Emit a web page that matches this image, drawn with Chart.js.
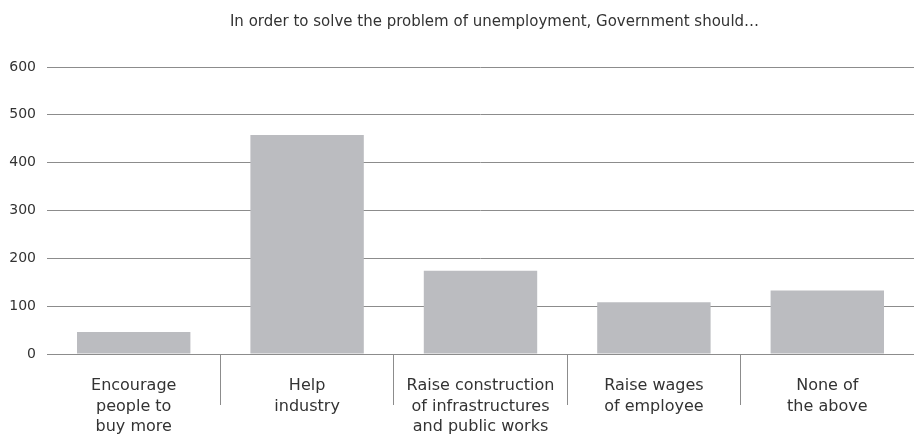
<!DOCTYPE html>
<html>
<head>
<meta charset="utf-8">
<script src="https://cdn.jsdelivr.net/npm/chart.js@4/dist/chart.umd.min.js"></script>
<style>
  html, body { margin: 0; padding: 0; background: #fff; }
  #wrap { width: 914px; height: 438px; position: relative; }
</style>
</head>
<body>
<div id="wrap"><canvas id="c"></canvas></div>
<script>
const titleText = 'In order to solve the problem of unemployment, Government should…';
const categories = [
  ['Encourage', 'people to', 'buy more'],
  ['Help', 'industry'],
  ['Raise construction', 'of infrastructures', 'and public works'],
  ['Raise wages', 'of employee'],
  ['None of', 'the above']
];
const responses = [46, 458, 174, 108, 133];
const yTicks = [0, 100, 200, 300, 400, 500, 600];

const fontFamily = '"DejaVu Sans", "Noto Sans", sans-serif';
const textColor = '#333333';
const ruleColor = '#8c8c8c';

// Heading drawn above the plot, slightly right of the plot centre
const headingPlugin = {
  id: 'heading',
  afterDraw(chart) {
    const { ctx, chartArea } = chart;
    ctx.save();
    ctx.font = '15px ' + fontFamily;
    ctx.fillStyle = textColor;
    ctx.textAlign = 'center';
    ctx.textBaseline = 'middle';
    ctx.fillText(titleText, (chartArea.left + chartArea.right) / 2 + 14, 22);
    ctx.restore();
  }
};

new Chart(document.getElementById('c'), {
  type: 'bar',
  data: {
    labels: categories,
    datasets: [{
      data: responses,
      backgroundColor: '#bbbcc0',
      borderWidth: 0,
      barPercentage: 0.654,
      categoryPercentage: 1.0
    }]
  },
  plugins: [headingPlugin],
  options: {
    responsive: true,
    maintainAspectRatio: false,
    animation: false,
    layout: { padding: { top: 67, left: 0, right: 0, bottom: 0 } },
    plugins: {
      legend: { display: false },
      tooltip: { enabled: false },
      title: { display: false }
    },
    scales: {
      x: {
        z: 1,
        border: { display: true, color: ruleColor, width: 1 },
        afterFit: (scale) => { scale.height = 84; },
        grid: {
          offset: true,
          drawOnChartArea: false,
          drawTicks: true,
          tickLength: 51,
          lineWidth: 1,
          color: (ctx) => (ctx.type !== 'tick' || ctx.index === 0) ? 'rgba(0,0,0,0)' : ruleColor
        },
        ticks: {
          color: textColor,
          font: { family: fontFamily, size: 16, lineHeight: 1.28 },
          padding: -29,
          maxRotation: 0,
          autoSkip: false
        }
      },
      y: {
        min: 0,
        max: 600,
        border: { display: false },
        afterFit: (scale) => { scale.width = 47; },
        afterBuildTicks: (scale) => { scale.ticks = yTicks.map(v => ({ value: v })); },
        grid: {
          color: ruleColor,
          lineWidth: 1,
          drawTicks: false
        },
        ticks: {
          color: textColor,
          font: { family: fontFamily, size: 14 },
          padding: 11
        }
      }
    }
  }
});
</script>
</body>
</html>
